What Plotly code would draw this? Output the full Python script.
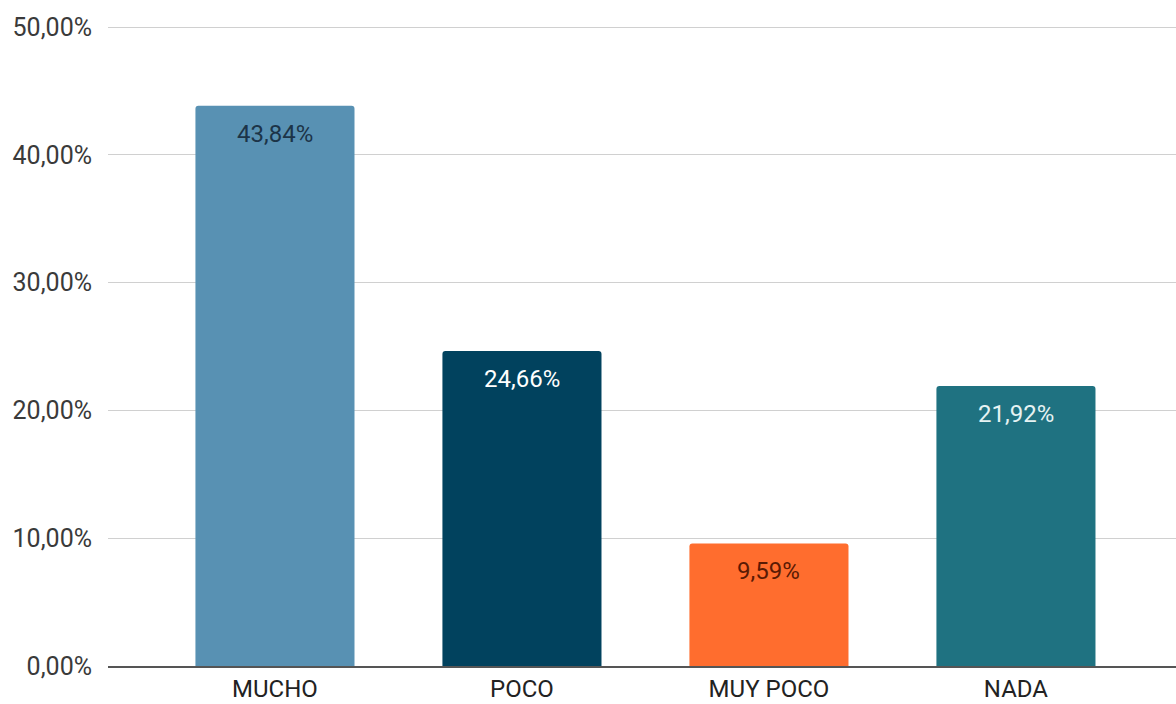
import plotly.graph_objects as go

categories = ["MUCHO", "POCO", "MUY POCO", "NADA"]
values = [43.84, 24.66, 9.59, 21.92]
bar_colors = ["#5891b3", "#01425e", "#ff6d2e", "#1f7281"]
label_colors = ["#1c3448", "#ffffff", "#5a1a04", "#e6f3f3"]
y_ticks = [0, 10, 20, 30, 40, 50]


def pct(v):
    return f"{v:.2f}".replace(".", ",") + "%"


fig = go.Figure(
    go.Bar(
        x=categories,
        y=values,
        marker=dict(color=bar_colors, line=dict(width=0), cornerradius=3),
        hoverinfo="skip",
    )
)

for cat, v, col in zip(categories, values, label_colors):
    fig.add_annotation(
        x=cat, y=v, text=pct(v), showarrow=False,
        yanchor="top", yshift=-12,
        font=dict(family="Roboto", size=24, color=col),
    )

# range slightly past 50 so the top gridline is drawn
y_top = 50.4
plot_h = (666 - 27) * y_top / 50

fig.update_layout(
    width=1176, height=704,
    margin=dict(l=108, r=0, t=666 - plot_h, b=38),
    paper_bgcolor="white", plot_bgcolor="white",
    bargap=0.356,
    showlegend=False,
    font=dict(family="Roboto", size=24, color="#333333"),
    xaxis=dict(
        type="category",
        range=[-0.676, 3.648],
        showgrid=False,
        showline=True, linecolor="#555555", linewidth=2,
        ticks="", tickfont=dict(size=24, color="#222222"),
        ticklabelstandoff=0,
        automargin=False,
    ),
    yaxis=dict(
        range=[0, y_top],
        tickvals=y_ticks,
        ticktext=[pct(t) for t in y_ticks],
        showgrid=True, gridcolor="#d0d0d0", gridwidth=1,
        zeroline=False, showline=False,
        ticks="", ticklabelstandoff=15,
        tickfont=dict(size=25, color="#3a3a3a"),
        automargin=False,
    ),
)

fig.write_html("out.html")
